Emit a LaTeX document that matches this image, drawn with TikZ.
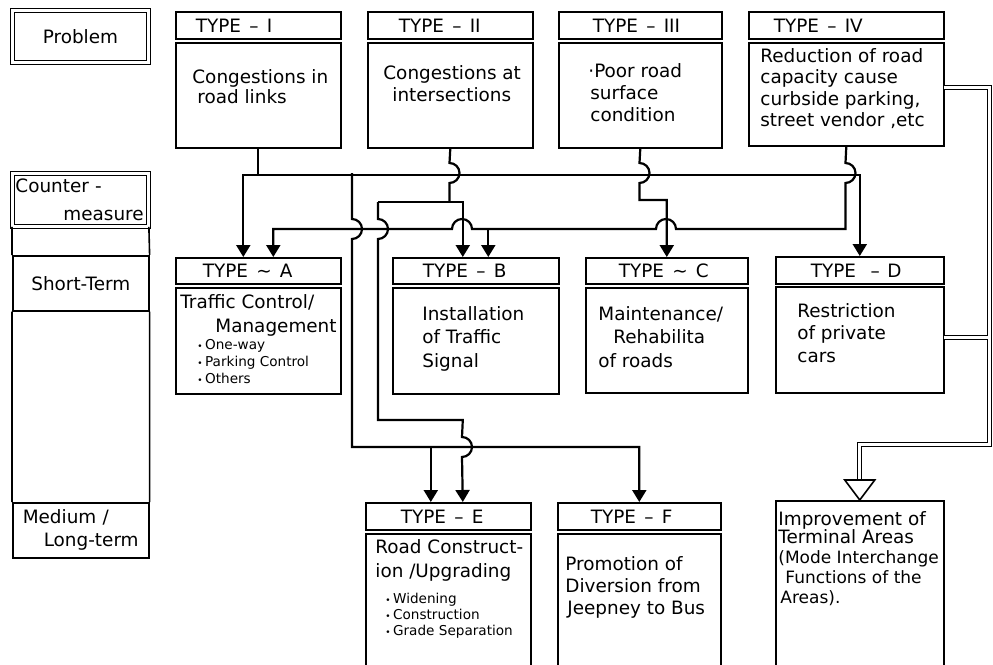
\documentclass[tikz,border=0pt]{standalone}
\usepackage{fontspec}
\setmainfont{DejaVu Sans}
\usetikzlibrary{arrows.meta,calc}
\newcommand\tp{\rule{0pt}{7pt}}
\newcommand\mybul{{\fontsize{4.5}{4.5}\selectfont•}\hspace{1.2pt}}
\newcommand\tsep{\hspace{.45em}}
\begin{document}
\begin{tikzpicture}[x=0.5pt,y=-0.5pt,
  bx/.style={draw,line width=0.8pt,inner sep=0pt,anchor=north west},
  dbx/.style={draw,line width=0.45pt,double,double distance=1.3pt,inner sep=0pt,anchor=north west,font=\fontsize{9.2}{11}\selectfont},
  hdr/.style={bx,align=left,font=\fontsize{9.2}{11}\selectfont},
  txt/.style={inner sep=0pt,anchor=north west,align=left,font=\fontsize{9.2}{#1}\selectfont},
  txt/.default=11,
  smalltxt/.style={inner sep=0pt,anchor=north west,align=left,font=\fontsize{6.8}{#1}\selectfont},
  smalltxt/.default=8.5,
  conn/.style={line width=1.1pt},
  arr/.style={-{Triangle[width=7pt,length=6pt]}},
  arrs/.style={{Triangle[width=7pt,length=6pt]}-{Triangle[width=7pt,length=6pt]}},
  dl/.style={line width=0.5pt,double,double distance=1.5pt},
]
\useasboundingbox (0,0) rectangle (993,665);
\clip (0,0) rectangle (993,665);

% ---- left column
\node[dbx,minimum width=68pt,minimum height=26pt] (prob) at (12,10) {Problem};
\node[dbx,minimum height=26.5pt,text width=65pt,inner xsep=1.5pt,align=left,font=\fontsize{9.2}{14}\selectfont] (cm) at (12,173) {Counter -\\\hspace*{24pt}measure};
\node[bx,minimum width=68pt,minimum height=27.5pt,font=\fontsize{9.2}{11}\selectfont] (st) at (12,255) {Short-Term};
\node[bx,minimum height=27.5pt,text width=65pt,inner xsep=1.5pt,align=left,font=\fontsize{9.2}{11.5}\selectfont] (ml) at (12,502) {\hspace*{3.5pt}Medium /\\\hspace*{14pt}Long-term};
\draw[line width=0.8pt] (cm.south west) -- (st.north west) (cm.south east) -- (st.north east)
  (st.south west) -- (ml.north west) (st.south east) -- (ml.north east);

% ---- problem row
\node[hdr,text width=82.5pt,minimum height=13.5pt] (h1) at (175,11) {\hspace*{10pt}TYPE\tsep–\tsep I};
\node[bx,minimum width=82.5pt,minimum height=52.5pt] (b1) at (175,42) {};
\node[hdr,text width=82.5pt,minimum height=13.5pt] (h2) at (367,11) {\hspace*{15.5pt}TYPE\tsep–\tsep II};
\node[bx,minimum width=82.5pt,minimum height=52.5pt] (b2) at (367,42) {};
\node[hdr,text width=81.5pt,minimum height=13.5pt] (h3) at (558,11) {\hspace*{17pt}TYPE\tsep–\tsep III};
\node[bx,minimum width=81.5pt,minimum height=52.5pt] (b3) at (558,42) {};
\node[hdr,text width=97.5pt,minimum height=13.5pt] (h4) at (748,11) {\hspace*{12.5pt}TYPE\tsep–\tsep IV};
\node[bx,minimum width=97.5pt,minimum height=51.5pt] (b4) at (748,42) {};

\node[txt=10] (x1) at (192,69) {\tp Congestions in\\\hspace*{2.5pt}road links};
\node[txt=11] (x2) at (383,65) {\tp Congestions at\\\hspace*{4.5pt}intersections};
\node[txt=11] (x3) at (588,63) {\tp ·Poor road\\\hspace*{1pt}surface\\\hspace*{1pt}condition};
\node[txt=10.75] (x4) at (760,48) {\tp Reduction of road\\capacity cause\\curbside parking,\\street vendor ,etc};

% ---- short-term row
\node[hdr,text width=82.5pt,minimum height=13pt] (hA) at (175,257) {\hspace*{13.5pt}TYPE\tsep\textasciitilde\tsep A};
\node[bx,minimum width=82.5pt,minimum height=53pt] (bA) at (175,287) {};
\node[hdr,text width=83pt,minimum height=13pt] (hB) at (392,257) {\hspace*{15pt}TYPE\tsep–\tsep B};
\node[bx,minimum width=83pt,minimum height=53pt] (bB) at (392,287) {};
\node[hdr,text width=81pt,minimum height=13pt] (hC) at (585,257) {\hspace*{16.5pt}TYPE\tsep\textasciitilde\tsep C};
\node[bx,minimum width=81pt,minimum height=52.5pt] (bC) at (585,287) {};
\node[hdr,text width=84pt,minimum height=13.5pt] (hD) at (775,256) {\hspace*{17.5pt}TYPE\hspace{.8em}–\hspace{.4em}D};
\node[bx,minimum width=84pt,minimum height=53pt] (bD) at (775,286) {};

\node[txt=12] (xA) at (180,294) {\tp Traffic Control/\\\hspace*{17.5pt}Management};
\node[smalltxt=8.5] (xAl) at (197,335) {\tp\mybul One-way\\\mybul Parking Control\\\mybul Others};
\node[txt=11.75] (xB) at (422,306) {\tp Installation\\of Traffic\\Signal};
\node[txt=11.75] (xC) at (598,306) {\tp Maintenance/\\\hspace*{7.5pt}Rehabilita\\of roads};
\node[txt=11.25] (xD) at (797,303) {\tp Restriction\\of private\\cars};

% ---- medium/long-term row
\node[hdr,text width=82.5pt,minimum height=13.5pt] (hE) at (365,502) {\hspace*{17.5pt}TYPE\tsep–\tsep E};
\node[bx,minimum width=82.5pt,minimum height=66.5pt] (bE) at (365,533) {};
\node[hdr,text width=81.5pt,minimum height=13.5pt] (hF) at (557,502) {\hspace*{16.5pt}TYPE\tsep–\tsep F};
\node[bx,minimum width=81.5pt,minimum height=66.5pt] (bF) at (557,533) {};
\node[bx,minimum width=84pt,minimum height=83pt] (imp) at (775,500) {};

\node[txt=12] (xE) at (375,539) {\tp Road Construct-\\ion /Upgrading};
\node[smalltxt=8] (xEl) at (385,589) {\tp\mybul Widening\\\mybul Construction\\\mybul Grade Separation};
\node[txt=11] (xF) at (565,556) {\tp Promotion of\\Diversion from\\\hspace*{1pt}Jeepney to Bus};
\node[txt=9] (xI1) at (778,511) {\tp Improvement of\\Terminal Areas};
\node[inner sep=0pt,anchor=north west,align=left,font=\fontsize{8.5}{10}\selectfont] (xI2) at (778,549) {\tp(Mode Interchange\\\hspace*{3.5pt}Functions of the\\\hspace*{1pt}Areas).};

% ---- junction coordinates
\coordinate (aA1) at ($(hA.north)+(-15,0)$);
\coordinate (aA2) at ($(hA.north)+(15,0)$);
\coordinate (aB1) at ($(hB.north)+(-13,0)$);
\coordinate (aB2) at ($(hB.north)+(12.5,0)$);
\coordinate (aE1) at ($(hE.north)+(-17.5,0)$);
\coordinate (aE2) at ($(hE.north)+(14.5,0)$);
\coordinate (busL) at (aA1 |- b1.south);
\coordinate (busL) at ($(busL)+(0,26)$);
\coordinate (busR) at (hD.north |- busL);
\coordinate (j352) at (352,173);
\coordinate (k447) at (352,447);
\coordinate (j378) at (378,202);
\coordinate (j487) at (aB2 |- 0,229);
\coordinate (jE1) at (aE1 |- k447);

% ---- connectors
\draw[conn] (b1.south) -- (b1.south |- busL);
\draw[conn,arrs] (aA1) -- (busL) -- (busR) -- (hD.north);
\draw[conn,arr] (j352) -- (352,219) arc[start angle=-90,end angle=90,radius=10]
  -- (k447) -- (hF.north |- k447) -- (hF.north);
\draw[conn,arr] (jE1) -- (aE1);
% TYPE-II
\draw[conn] (b2.south) -- (449.5,163) arc[start angle=-90,end angle=90,radius=10] -- (449.5,202);
\draw[conn,arr] (j378) -- (aB1 |- j378) -- (aB1);
\draw[conn,arr] (j378) -- (378,219) arc[start angle=-90,end angle=90,radius=10]
  -- (378,420) -- (aE2 |- 0,420) -- (462,437) arc[start angle=-90,end angle=90,radius=10] -- (aE2);
% TYPE-III
\draw[conn,arr] (b3.south) -- (639.5,163) arc[start angle=-90,end angle=90,radius=10]
  -- (639.5,200) -- (hC.north |- 0,200) -- (hC.north);
% TYPE-IV
\draw[conn,arr] (b4.south) -- (845.5,163) arc[start angle=-90,end angle=90,radius=10]
  -- (845.5,229) -- (676,229) arc[start angle=0,end angle=-180,radius=10]
  -- (472,229) arc[start angle=0,end angle=-180,radius=10] -- (aA2 |- 0,229) -- (aA2);
\draw[conn,arr] (j487) -- (aB2);

% ---- double connector to terminal areas
\coordinate (d1) at (944,87);
\coordinate (d2) at (944,337);
\draw[dl] (d1) -- (989,87) -- (989,444) -- (imp.north |- 0,444) -- ($(imp.north)+(0,-19)$);
\draw[dl] (d2) -- (987.5,337);
\draw[line width=0.8pt,fill=white] ($(imp.north)+(-15,-20)$) -- ($(imp.north)+(15,-20)$) -- (imp.north) -- cycle;
\end{tikzpicture}
\end{document}
